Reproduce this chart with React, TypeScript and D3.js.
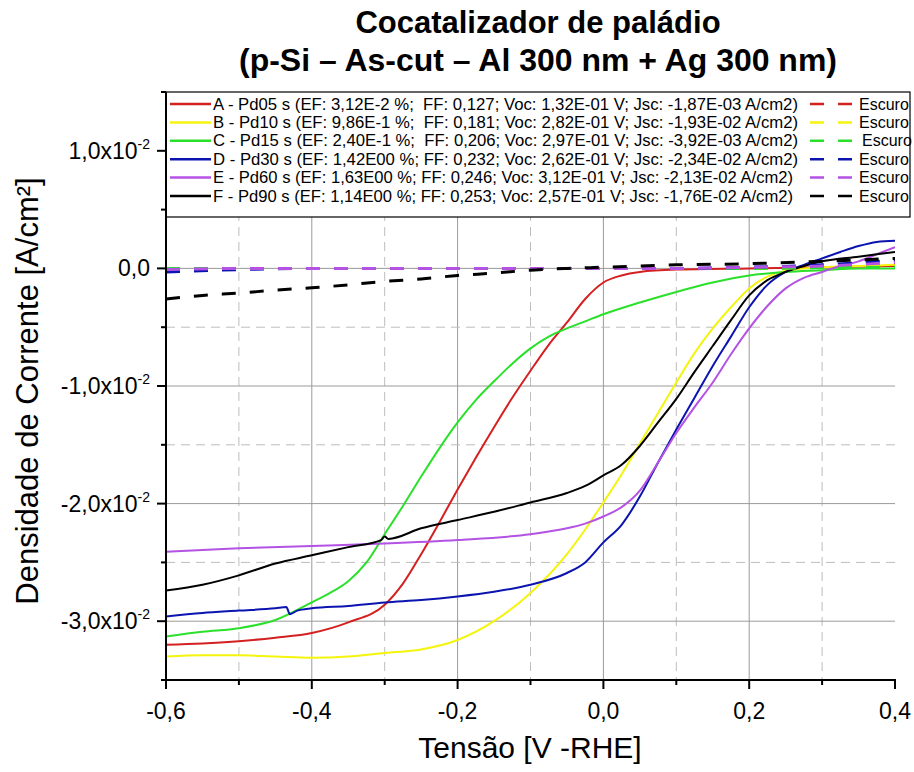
import React from "react";
import * as d3 from "d3";

const W = 914;
const H = 772;

// Axis domains (current density in units of 1e-2 A/cm²)
const xDomain = [-0.6, 0.4];
const yDomain = [-3.5, 1.5];
const xMajor = [-0.6, -0.4, -0.2, 0.0, 0.2, 0.4];
const xMajorLabels = ["-0,6", "-0,4", "-0,2", "0,0", "0,2", "0,4"];
const xMinor = [-0.5, -0.3, -0.1, 0.1, 0.3];
const yMajor = [1, 0, -1, -2, -3];
const yMajorMantissa = ["1,0x10", "0,0", "-1,0x10", "-2,0x10", "-3,0x10"];
const yMajorExp = ["-2", "", "-2", "-2", "-2"];
const yMinor = [1.5, 0.5, -0.5, -1.5, -2.5, -3.5];

// A - Pd05 s (red)
const vA = [-0.6, -0.55, -0.5, -0.45, -0.4, -0.35, -0.3, -0.275, -0.25, -0.225, -0.2, -0.175, -0.15, -0.125, -0.1, -0.075, -0.05, -0.025, 0, 0.025, 0.05, 0.1, 0.2, 0.3, 0.4];
const jA = [-3.2, -3.19, -3.17, -3.14, -3.1, -3.01, -2.86, -2.68, -2.43, -2.16, -1.88, -1.61, -1.35, -1.1, -0.87, -0.65, -0.46, -0.26, -0.12, -0.06, -0.03, -0.01, 0.0, 0.01, 0.02];
// B - Pd10 s (yellow)
const vB = [-0.6, -0.55, -0.5, -0.45, -0.4, -0.35, -0.3, -0.25, -0.2, -0.15, -0.1, -0.05, -0.025, 0, 0.025, 0.05, 0.075, 0.1, 0.125, 0.15, 0.175, 0.2, 0.225, 0.25, 0.3, 0.35, 0.4];
const jB = [-3.3, -3.29, -3.29, -3.3, -3.31, -3.3, -3.27, -3.24, -3.16, -3.0, -2.76, -2.43, -2.22, -1.99, -1.75, -1.49, -1.23, -0.97, -0.72, -0.51, -0.33, -0.17, -0.07, -0.02, 0.01, 0.02, 0.03];
// C - Pd15 s (green)
const vC = [-0.6, -0.55, -0.5, -0.45, -0.4, -0.375, -0.35, -0.325, -0.3, -0.275, -0.25, -0.225, -0.2, -0.175, -0.15, -0.125, -0.1, -0.075, -0.05, -0.025, 0, 0.05, 0.1, 0.15, 0.2, 0.25, 0.3, 0.35, 0.4];
const jC = [-3.13, -3.09, -3.06, -2.99, -2.84, -2.76, -2.66, -2.5, -2.26, -2.02, -1.77, -1.53, -1.31, -1.12, -0.96, -0.81, -0.68, -0.58, -0.51, -0.45, -0.39, -0.29, -0.2, -0.12, -0.06, -0.03, -0.015, 0.0, 0.0];
// D - Pd30 s (blue)
const vD = [-0.6, -0.55, -0.5, -0.45, -0.435, -0.43, -0.42, -0.4, -0.35, -0.3, -0.25, -0.2, -0.15, -0.1, -0.05, -0.025, 0, 0.025, 0.05, 0.075, 0.1, 0.125, 0.15, 0.175, 0.2, 0.225, 0.25, 0.275, 0.3, 0.325, 0.35, 0.375, 0.4];
const jD = [-2.96, -2.93, -2.91, -2.89, -2.88, -2.94, -2.91, -2.89, -2.87, -2.84, -2.82, -2.79, -2.75, -2.69, -2.59, -2.5, -2.33, -2.18, -1.94, -1.65, -1.37, -1.1, -0.83, -0.58, -0.33, -0.14, -0.03, 0.03, 0.085, 0.14, 0.19, 0.225, 0.235];
// E - Pd60 s (magenta)
const vE = [-0.6, -0.5, -0.4, -0.3, -0.2, -0.1, -0.05, -0.025, 0, 0.025, 0.05, 0.075, 0.1, 0.125, 0.15, 0.175, 0.2, 0.225, 0.25, 0.275, 0.3, 0.325, 0.35, 0.375, 0.4];
const jE = [-2.41, -2.38, -2.36, -2.34, -2.31, -2.26, -2.21, -2.17, -2.11, -2.03, -1.89, -1.65, -1.4, -1.18, -0.97, -0.73, -0.51, -0.32, -0.17, -0.08, -0.03, 0.02, 0.06, 0.12, 0.18];
// F - Pd90 s (black)
const vF = [-0.6, -0.55, -0.5, -0.45, -0.4, -0.35, -0.305, -0.3, -0.295, -0.25, -0.2, -0.15, -0.1, -0.05, -0.025, 0, 0.025, 0.05, 0.075, 0.1, 0.125, 0.15, 0.175, 0.2, 0.225, 0.25, 0.275, 0.3, 0.35, 0.4];
const jF = [-2.74, -2.69, -2.61, -2.51, -2.44, -2.37, -2.31, -2.28, -2.3, -2.21, -2.14, -2.07, -1.99, -1.91, -1.85, -1.76, -1.67, -1.51, -1.31, -1.11, -0.88, -0.66, -0.44, -0.23, -0.1, -0.03, 0.02, 0.06, 0.1, 0.14];

// Dark ("Escuro") curves
const vDark = [-0.6, -0.5, -0.4, -0.3, -0.2, -0.1, 0, 0.1, 0.2, 0.3, 0.4];
const jDarkA = [0.0, 0.0, 0.0, 0.0, 0.0, 0.0, 0.0, 0.0, 0.0, 0.01, 0.02];
const jDarkB = [0.0, 0.0, 0.0, 0.0, 0.0, 0.0, 0.0, 0.0, 0.0, 0.01, 0.02];
const jDarkC = [0.0, 0.0, 0.0, 0.0, 0.0, 0.0, 0.0, 0.0, 0.0, 0.005, 0.01];
const jDarkD = [-0.03, -0.01, 0.0, 0.0, 0.0, 0.0, 0.0, 0.0, 0.01, 0.03, 0.07];
const jDarkE = [-0.01, 0.0, 0.0, 0.0, 0.0, 0.0, 0.0, 0.0, 0.01, 0.02, 0.05];
const vDarkF = [-0.6, -0.55, -0.5, -0.45, -0.4, -0.35, -0.3, -0.25, -0.2, -0.15, -0.1, -0.05, 0, 0.1, 0.2, 0.3, 0.4];
const jDarkF = [-0.26, -0.23, -0.21, -0.185, -0.165, -0.14, -0.11, -0.09, -0.06, -0.04, -0.015, 0.0, 0.01, 0.03, 0.04, 0.06, 0.085];

const seriesNames = ["A", "B", "C", "D", "E", "F"];
const seriesColors = ["#d42020", "#f4f40c", "#2ae02a", "#0c14b0", "#b452e4", "#000000"];
const legendLabels = [
  "A - Pd05 s (EF: 3,12E-2 %;  FF: 0,127; Voc: 1,32E-01 V; Jsc: -1,87E-03 A/cm2)",
  "B - Pd10 s (EF: 9,86E-1 %;  FF: 0,181; Voc: 2,82E-01 V; Jsc: -1,93E-02 A/cm2)",
  "C - Pd15 s (EF: 2,40E-1 %;  FF: 0,206; Voc: 2,97E-01 V; Jsc: -3,92E-03 A/cm2)",
  "D - Pd30 s (EF: 1,42E00 %; FF: 0,232; Voc: 2,62E-01 V; Jsc: -2,34E-02 A/cm2)",
  "E - Pd60 s (EF: 1,63E00 %; FF: 0,246; Voc: 3,12E-01 V; Jsc: -2,13E-02 A/cm2)",
  "F - Pd90 s (EF: 1,14E00 %; FF: 0,253; Voc: 2,57E-01 V; Jsc: -1,76E-02 A/cm2)",
];
const darkLabel = "Escuro";

const lightV = [vA, vB, vC, vD, vE, vF];
const lightJ = [jA, jB, jC, jD, jE, jF];
const darkV = [vDark, vDark, vDark, vDark, vDark, vDarkF];
const darkJ = [jDarkA, jDarkB, jDarkC, jDarkD, jDarkE, jDarkF];

const FONT = "'Liberation Sans', Arial, Helvetica, sans-serif";

export default function App() {
  const L = 166, R = 895, T = 92, B = 680;
  const x = d3.scaleLinear().domain(xDomain).range([L, R]);
  const y = d3.scaleLinear().domain(yDomain).range([B, T]);
  const line = d3
    .line<[number, number]>()
    .x((d) => x(d[0]))
    .y((d) => y(d[1]))
    .curve(d3.curveMonotoneX);
  const zip = (v: number[], j: number[]) => v.map((vv, i) => [vv, j[i]] as [number, number]);

  const legX0 = L, legX1 = 910, legY0 = T, legY1 = 217;
  const rowY = (i: number) => 104 + i * 18.4;

  return (
    <svg width={W} height={H} style={{ position: "absolute", left: 0, top: 0, background: "#fff" }} fontFamily={FONT}>
      <rect x={0} y={0} width={W} height={H} fill="#fff" />
      <defs>
        <clipPath id="plotClip">
          <rect x={L} y={T} width={R - L} height={B - T} />
        </clipPath>
      </defs>

      {/* Title */}
      <text x={538} y={33} textAnchor="middle" fontSize={31} fontWeight="bold">Cocatalizador de paládio</text>
      <text x={538} y={71} textAnchor="middle" fontSize={31} fontWeight="bold" textLength={598} lengthAdjust="spacingAndGlyphs">(p-Si – As-cut – Al 300 nm + Ag 300 nm)</text>

      {/* Grid */}
      {xMinor.map((v) => (
        <line key={"gxm" + v} x1={x(v)} x2={x(v)} y1={T} y2={B} stroke="#bdbdbd" strokeWidth={1} strokeDasharray="9,6" />
      ))}
      {xMajor.filter((v) => v > -0.6 && v < 0.4).map((v) => (
        <line key={"gxM" + v} x1={x(v)} x2={x(v)} y1={T} y2={B} stroke="#9a9a9a" strokeWidth={1} />
      ))}
      {yMinor.filter((v) => v > -3.5 && v < 1.5).map((v) => (
        <line key={"gym" + v} x1={L} x2={R} y1={y(v)} y2={y(v)} stroke="#bdbdbd" strokeWidth={1} strokeDasharray="9,6" />
      ))}
      {yMajor.map((v) => (
        <line key={"gyM" + v} x1={L} x2={R} y1={y(v)} y2={y(v)} stroke="#9a9a9a" strokeWidth={1} />
      ))}

      {/* Curves */}
      <g clipPath="url(#plotClip)" fill="none">
        {seriesNames.map((n, i) => (
          <path key={"l" + n} d={line(zip(lightV[i], lightJ[i])) || ""} stroke={seriesColors[i]} strokeWidth={2} strokeLinejoin="round" />
        ))}
        {seriesNames.map((n, i) => (
          <path key={"d" + n} d={line(zip(darkV[i], darkJ[i])) || ""} stroke={seriesColors[i]} strokeWidth={3} strokeDasharray="14,14" />
        ))}
      </g>

      {/* Legend */}
      <rect x={legX0} y={legY0} width={legX1 - legX0} height={legY1 - legY0} fill="#fff" stroke="#000" strokeWidth={1.2} />
      {seriesNames.map((n, i) => (
        <g key={"leg" + n}>
          <line x1={170} x2={211} y1={rowY(i)} y2={rowY(i)} stroke={seriesColors[i]} strokeWidth={2.5} />
          <text x={213} y={rowY(i) + 5.5} fontSize={16} style={{ whiteSpace: "pre" }} textLength={i < 4 ? 585 : 580} lengthAdjust="spacingAndGlyphs">
            {legendLabels[i]}
          </text>
          <line x1={810} x2={852} y1={rowY(i)} y2={rowY(i)} stroke={seriesColors[i]} strokeWidth={2.5} strokeDasharray="14,14" />
          <text x={i === 2 ? 862 : 859} y={rowY(i) + 5.5} fontSize={16}>{darkLabel}</text>
        </g>
      ))}

      {/* Axes */}
      <line x1={L} x2={L} y1={T} y2={B + 1} stroke="#000" strokeWidth={2} />
      <line x1={L - 1} x2={R + 1} y1={B} y2={B} stroke="#000" strokeWidth={2} />
      {xMajor.map((v, i) => (
        <g key={"xt" + v}>
          <line x1={x(v)} x2={x(v)} y1={B} y2={B + 9} stroke="#000" strokeWidth={2} />
          <text x={x(v)} y={719} textAnchor="middle" fontSize={23}>{xMajorLabels[i]}</text>
        </g>
      ))}
      {xMinor.map((v) => (
        <line key={"xtm" + v} x1={x(v)} x2={x(v)} y1={B} y2={B + 5} stroke="#000" strokeWidth={2} />
      ))}
      {yMajor.map((v, i) => (
        <g key={"yt" + v}>
          <line x1={L - 9} x2={L} y1={y(v)} y2={y(v)} stroke="#000" strokeWidth={2} />
          <text x={150} y={y(v) + 8} textAnchor="end" fontSize={23}>
            {yMajorMantissa[i]}
            {yMajorExp[i] ? <tspan dy={-10} fontSize={14}>{yMajorExp[i]}</tspan> : null}
          </text>
        </g>
      ))}
      {yMinor.map((v) => (
        <line key={"ytm" + v} x1={L - 5} x2={L} y1={y(v)} y2={y(v)} stroke="#000" strokeWidth={2} />
      ))}

      {/* Axis titles */}
      <text x={530} y={758} textAnchor="middle" fontSize={30}>Tensão [V -RHE]</text>
      <text transform={`translate(38,391) rotate(-90)`} textAnchor="middle" fontSize={31}>Densidade de Corrente [A/cm²]</text>
    </svg>
  );
}
